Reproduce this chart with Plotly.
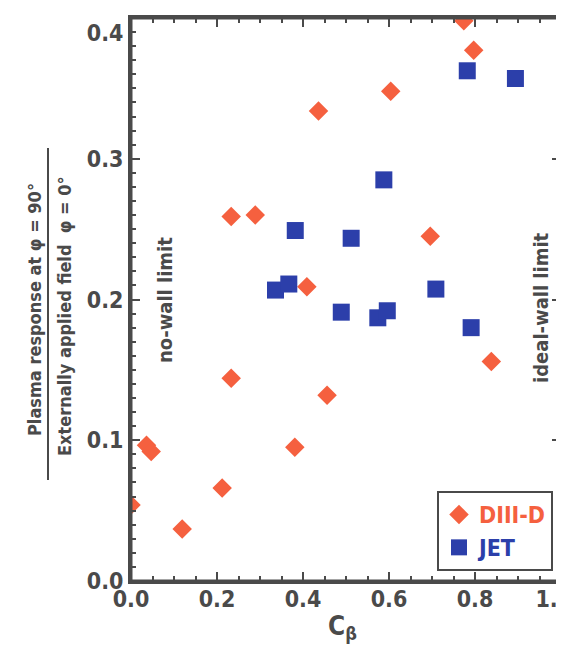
import plotly.graph_objects as go

# DIII-D data (C_beta, response ratio)
diii_x = [0.000, 0.119, 0.036, 0.047, 0.212, 0.233, 0.233, 0.289, 0.381, 0.409, 0.436,
          0.456, 0.604, 0.696, 0.774, 0.797, 0.838]
diii_y = [0.054, 0.037, 0.0965, 0.092, 0.066, 0.144, 0.259, 0.260, 0.095, 0.209, 0.334,
          0.132, 0.348, 0.245, 0.398, 0.377, 0.156]

# JET data
jet_x = [0.336, 0.367, 0.382, 0.489, 0.512, 0.574, 0.588, 0.596, 0.709, 0.782, 0.791, 0.894]
jet_y = [0.2067, 0.211, 0.249, 0.191, 0.2435, 0.187, 0.285, 0.192, 0.2074, 0.3625, 0.180, 0.357]

# axis ticks (major step and minor step)
x_ticks = [0.0, 0.2, 0.4, 0.6, 0.8, 1.0]
y_ticks = [0.0, 0.1, 0.2, 0.3, 0.4]
x_minor_step = 0.05
y_minor_step = 0.01

RED = "#F5603F"
BLUE = "#2C3FAA"
GRAY = "#4a4a4a"
FONT = "DejaVu Sans Condensed, Liberation Sans Narrow, Arial Narrow, sans-serif"

W, H = 564, 645
L, T = 123, 10
R = W - 553
B = H - 573
pw = W - L - R
ph = H - T - B
EPS = 1e-9

def px_x(p):
    return (p - L) / pw

def px_y(p):
    return (H - B - p) / ph

fig = go.Figure()
fig.add_trace(go.Scatter(
    x=diii_x, y=diii_y, mode="markers",
    name=f"<b><span style='color:{RED}'>DIII-D</span></b>",
    marker=dict(symbol="diamond", size=15, color=RED, line=dict(width=0)),
))
fig.add_trace(go.Scatter(
    x=jet_x, y=jet_y, mode="markers",
    name=f"<b><span style='color:{BLUE}'>JET</span></b>",
    marker=dict(symbol="square", size=17, color=BLUE, line=dict(width=0)),
))

axis_common = dict(
    showline=True, linewidth=3, linecolor=GRAY, mirror="ticks",
    ticks="inside", ticklen=9, tickwidth=2, tickcolor=GRAY,
    showgrid=False, zeroline=False, automargin=False,
    tickfont=dict(family=FONT, size=23, color=GRAY, weight="bold"),
    tickformat=".1f", ticklabeloverflow="allow",
)

# keep the end labels inside the window, as in the original figure
fig.update_xaxes(
    range=[x_ticks[0], x_ticks[-1] + EPS], tickmode="linear", tick0=x_ticks[0],
    dtick=x_ticks[1] - x_ticks[0],
    minor=dict(tickmode="linear", tick0=0, dtick=x_minor_step, ticks="inside", ticklen=5,
               tickwidth=2, tickcolor=GRAY, showgrid=False),
    ticklabelstandoff=-5,
    labelalias={"1.0": "1.0<span style='color:white'>0</span>"},
    **axis_common,
)
fig.update_yaxes(
    range=[y_ticks[0], y_ticks[-1] + EPS], tickmode="linear", tick0=y_ticks[0],
    dtick=y_ticks[1] - y_ticks[0],
    minor=dict(tickmode="linear", tick0=0, dtick=y_minor_step, ticks="inside", ticklen=5,
               tickwidth=2, tickcolor=GRAY, showgrid=False),
    labelalias={"0.4": "<br>0.4"},
    **axis_common,
)

annots = [
    dict(text="<b>no-wall limit</b>", x=px_x(157), y=px_y(292), xref="paper", yref="paper",
         xanchor="center", yanchor="middle",
         textangle=-90, showarrow=False, font=dict(family=FONT, size=20, color=GRAY)),
    dict(text="<b>ideal-wall limit</b>", x=px_x(533), y=px_y(300), xref="paper", yref="paper",
         xanchor="center", yanchor="middle",
         textangle=-90, showarrow=False, font=dict(family=FONT, size=20, color=GRAY)),
    dict(text="<b>Plasma response at φ = 90°</b>", x=px_x(26), y=px_y(302), xref="paper", yref="paper",
         xanchor="center", yanchor="middle",
         textangle=-90, showarrow=False, font=dict(family=FONT, size=18, color=GRAY)),
    dict(text="<b>Externally applied field  φ = 0°</b>", x=px_x(56), y=px_y(308), xref="paper", yref="paper",
         xanchor="center", yanchor="middle",
         textangle=-90, showarrow=False, font=dict(family=FONT, size=18, color=GRAY)),
    dict(text="<b>C<sub>β</sub></b>", x=px_x(334), y=px_y(619), xref="paper", yref="paper",
         xanchor="center", yanchor="middle",
         showarrow=False, font=dict(family=FONT, size=26, color=GRAY)),
]
fig.update_layout(annotations=annots)

# fraction bar of the y-axis title
fig.add_shape(type="line", xref="paper", yref="paper",
              x0=px_x(40), x1=px_x(40), y0=px_y(472), y1=px_y(140),
              line=dict(color=GRAY, width=2))
# plot frame
fig.add_shape(type="rect", xref="paper", yref="paper", x0=0, x1=1, y0=0, y1=1,
              line=dict(color=GRAY, width=3), layer="above")

fig.update_layout(
    width=W, height=H,
    margin=dict(l=L, r=R, t=T, b=B, autoexpand=False),
    paper_bgcolor="white", plot_bgcolor="white",
    font=dict(family=FONT, color=GRAY),
    showlegend=True,
    legend=dict(
        x=px_x(545), y=px_y(563), xanchor="right", yanchor="bottom",
        bordercolor=GRAY, borderwidth=2, bgcolor="white",
        font=dict(family=FONT, size=23),
        itemsizing="trace",
        tracegroupgap=0,
    ),
)

fig.write_html("out.html")
